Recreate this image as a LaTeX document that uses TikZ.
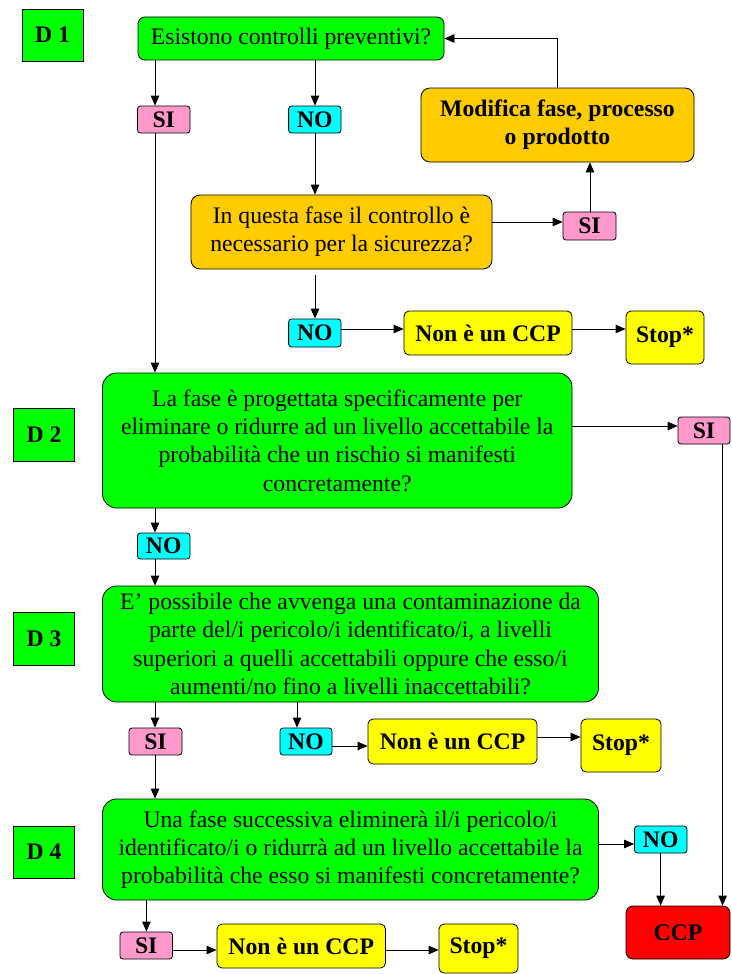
\documentclass[tikz,border=0pt]{standalone}
\usepackage{fontspec}
\setmainfont{Liberation Serif}
\usetikzlibrary{arrows.meta}
\definecolor{cgreen}{HTML}{00FF00}
\definecolor{cpink}{HTML}{FF99CC}
\definecolor{ccyan}{HTML}{00FFFF}
\definecolor{corange}{HTML}{FFCC00}
\definecolor{cyellow}{HTML}{FFFF00}
\definecolor{cred}{HTML}{FF0000}
\newcommand{\myfs}{\fontsize{23.7}{28.3}\selectfont}
\begin{document}
\begin{tikzpicture}[x=1pt,y=-1pt,
  every node/.style={font=\myfs, inner sep=0pt, draw=black, line width=0.8pt, align=center},
  lab/.style={fill=cgreen, font=\myfs\bfseries},
  q/.style={fill=cgreen, rounded corners=14pt},
  qo/.style={fill=corange, rounded corners=9pt},
  si/.style={fill=cpink, rounded corners=3pt, font=\myfs\bfseries},
  no/.style={fill=ccyan, rounded corners=3pt, font=\myfs\bfseries},
  yb/.style={fill=cyellow, rounded corners=5pt, font=\myfs\bfseries},
  arr/.style={-{Triangle[length=10pt,width=8.5pt]}, line width=0.8pt}
]
\useasboundingbox (0,0) rectangle (731,974);
% labels
\node[lab, minimum width=61pt, minimum height=52pt] (d1) at (52.5,35) {D 1};
\node[lab, minimum width=61.6pt, minimum height=53pt] (d2) at (44,434.5) {D 2};
\node[lab, minimum width=61.6pt, minimum height=53pt] (d3) at (44,638.5) {D 3};
\node[lab, minimum width=61.6pt, minimum height=52pt] (d4) at (44,852) {D 4};
% D1
\node[q, rounded corners=7pt, minimum width=306pt, minimum height=43pt] (q1) at (291,38.5) {Esistono controlli preventivi?};
\node[si, minimum width=52.5pt, minimum height=27pt] (si1) at (163.75,119.5) {SI};
\node[no, minimum width=52.4pt, minimum height=27pt] (no1) at (314.8,119.5) {NO};
\node[qo, minimum width=273pt, minimum height=74pt, font=\myfs\bfseries] (mod) at (557.5,125) {Modifica fase, processo\\o prodotto};
\node[qo, minimum width=301pt, minimum height=74pt] (q2) at (341.5,232) {In questa fase il controllo è\\necessario per la sicurezza?};
\node[si, minimum width=53pt, minimum height=28pt] (si2) at (589.5,226) {SI};
\node[no, minimum width=52.4pt, minimum height=28pt] (no2) at (314.8,333) {NO};
\node[yb, minimum width=168pt, minimum height=44pt] (non1) at (488,333) {Non è un CCP};
\node[yb, minimum width=78pt, minimum height=53pt] (stop1) at (665,337.5) {Stop*};
% D2
\node[q, minimum width=469.5pt, minimum height=135pt] (q3) at (337.25,440.5) {La fase è progettata specificamente per\\eliminare o ridurre ad un livello accettabile la\\probabilità che un rischio si manifesti\\concretamente?};
\node[si, minimum width=52pt, minimum height=27pt] (si3) at (704,430.5) {SI};
\node[no, minimum width=52.5pt, minimum height=26pt] (no3) at (163.75,546) {NO};
% D3
\node[q, minimum width=496pt, minimum height=116pt] (q4) at (350.5,644) {E’ possibile che avvenga una contaminazione da\\parte del/i pericolo/i identificato/i, a livelli\\superiori a quelli accettabili oppure che esso/i\\aumenti/no fino a livelli inaccettabili?};
\node[si, minimum width=53pt, minimum height=27pt] (si4) at (155.5,741.5) {SI};
\node[no, minimum width=52pt, minimum height=27pt] (no4) at (306,741.5) {NO};
\node[yb, minimum width=169pt, minimum height=45pt] (non2) at (452.5,741.5) {Non è un CCP};
\node[yb, minimum width=80pt, minimum height=53pt] (stop2) at (621,745.5) {Stop*};
% D4
\node[q, minimum width=496pt, minimum height=101pt] (q5) at (350.5,849.5) {Una fase successiva eliminerà il/i pericolo/i\\identificato/i o ridurrà ad un livello accettabile la\\probabilità che esso si manifesti concretamente?};
\node[no, minimum width=52.5pt, minimum height=27pt] (no5) at (660.75,839.5) {NO};
\node[fill=cred, rounded corners=7pt, minimum width=104pt, minimum height=53pt, font=\myfs\bfseries] (ccp) at (678,932.5) {CCP};
\node[si, minimum width=52.5pt, minimum height=27pt] (si5) at (146.25,945.5) {SI};
\node[yb, minimum width=168.5pt, minimum height=44pt] (non3) at (301.25,946) {Non è un CCP};
\node[yb, minimum width=79pt, minimum height=49pt] (stop3) at (478.5,948.5) {Stop*};
% guide coordinates
\coordinate (xa) at (155,0);
\coordinate (xb) at (315,0);
\coordinate (xc) at (590,0);
\coordinate (xd) at (722.6,0);
\coordinate (xe) at (297,0);
\coordinate (xf) at (660.6,0);
\coordinate (xg) at (146.4,0);
\coordinate (ya) at (0,222);
\coordinate (yb) at (0,329);
\coordinate (yc) at (0,426);
\coordinate (yd) at (0,746);
\coordinate (ye) at (0,737);
\coordinate (yf) at (0,844);
\coordinate (yg) at (0,950);
% connectors
\draw[arr] (q1.south -| xa) -- (si1.north -| xa);
\draw[arr] (q1.south -| xb) -- (no1.north -| xb);
\draw[arr] (no1.south -| xb) -- (q2.north -| xb);
\draw[arr] ([yshift=-6pt]q2.south -| xb) -- (no2.north -| xb);
\draw[arr] (q2.east |- ya) -- (si2.west |- ya);
\draw[arr] (si2.north -| xc) -- (mod.south -| xc);
\draw[arr] (mod.north) |- (q1.east);
\draw[arr] (no2.east |- yb) -- (non1.west |- yb);
\draw[arr] (non1.east |- yb) -- (stop1.west |- yb);
\draw[arr] (si1.south -| xa) -- (q3.north -| xa);
\draw[arr] (q3.east |- yc) -- (si3.west |- yc);
\draw[arr] (si3.south -| xd) -- (ccp.north -| xd);
\draw[arr] (q3.south -| xa) -- (no3.north -| xa);
\draw[arr] (no3.south -| xa) -- (q4.north -| xa);
\draw[arr] (q4.south -| xa) -- (si4.north -| xa);
\draw[arr] (q4.south -| xe) -- (no4.north -| xe);
\draw[arr] (no4.east |- yd) -- (non2.west |- yd);
\draw[arr] (non2.east |- ye) -- (stop2.west |- ye);
\draw[arr] (si4.south -| xa) -- (q5.north -| xa);
\draw[arr] (q5.east |- yf) -- (no5.west |- yf);
\draw[arr] (no5.south -| xf) -- (ccp.north -| xf);
\draw[arr] (q5.south -| xg) -- (si5.north -| xg);
\draw[arr] (si5.east |- yg) -- (non3.west |- yg);
\draw[arr] (non3.east |- yg) -- (stop3.west |- yg);
\end{tikzpicture}
\end{document}
